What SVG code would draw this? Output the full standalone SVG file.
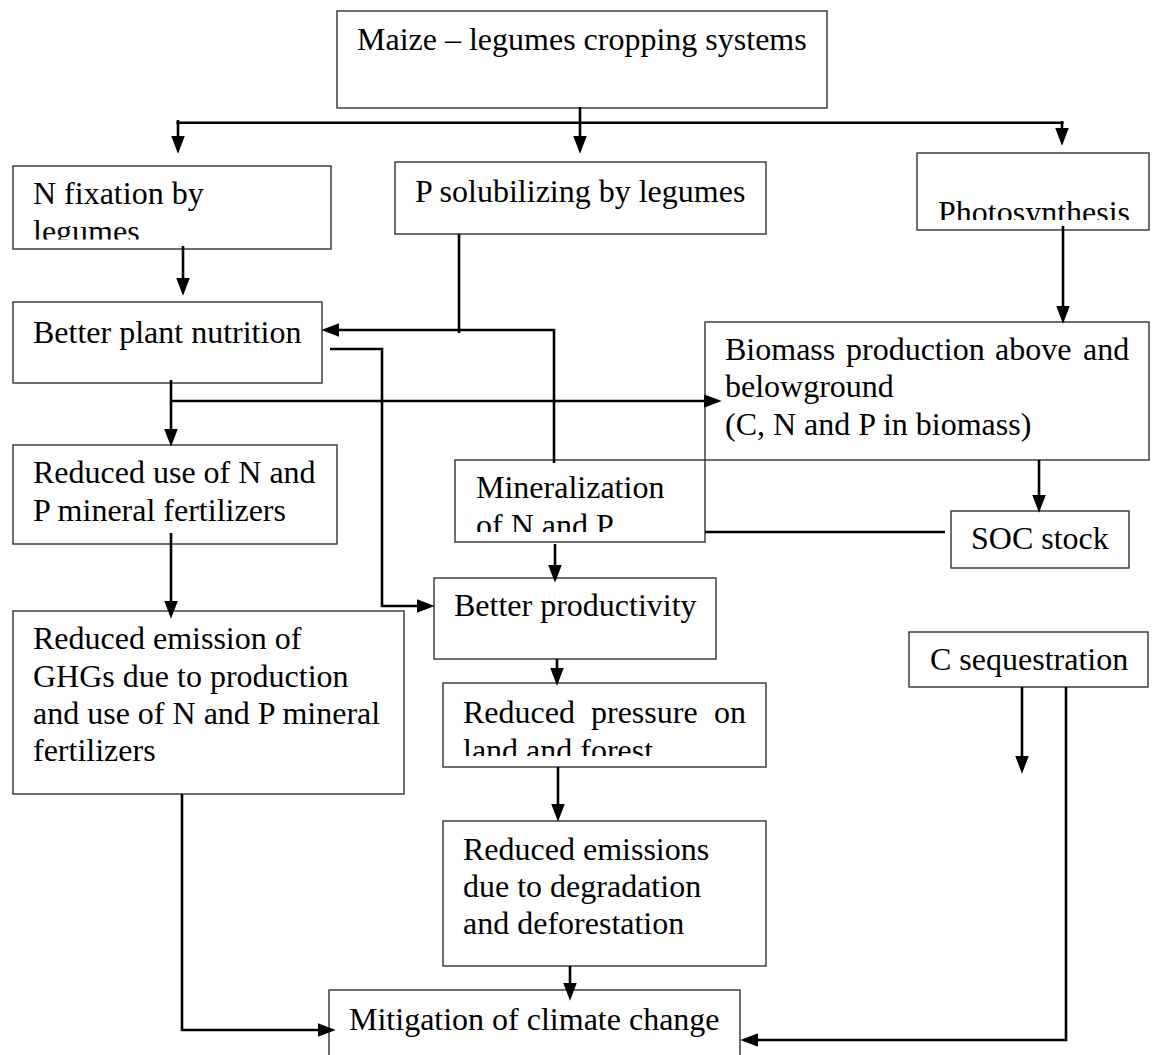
<svg xmlns="http://www.w3.org/2000/svg" width="1152" height="1055" viewBox="0 0 1152 1055">
<style>
.box{fill:#fff;stroke:#333;stroke-width:1.4}
.t{font-family:"Liberation Serif","Times New Roman",serif;font-size:32px;fill:#000}
.c{fill:none;stroke:#000;stroke-width:2.6}
.a{marker-end:url(#ah)}
</style>
<defs>
<marker id="ah" markerUnits="userSpaceOnUse" markerWidth="18" markerHeight="14" viewBox="0 0 17 13" refX="5" refY="6.5" orient="auto">
<path d="M0,0 L17,6.5 L0,13 z" fill="#000"/>
</marker>
<clipPath id="cNfix"><rect x="13" y="166" width="318" height="73.5"/></clipPath>
<clipPath id="cPhoto"><rect x="917" y="153" width="232" height="67"/></clipPath>
<clipPath id="cMin"><rect x="455" y="460" width="250" height="72"/></clipPath>
<clipPath id="cPress"><rect x="443" y="683" width="323" height="73"/></clipPath>
</defs>
<rect width="1152" height="1055" fill="#fff"/>

<g id="n-maize"><rect class="box" x="337" y="11" width="490" height="97"/><text class="t" x="357" y="50">Maize – legumes cropping systems</text></g>
<g id="n-nfix"><rect class="box" x="13" y="166" width="318" height="83"/><g clip-path="url(#cNfix)"><text class="t" x="33" y="204">N fixation by</text><text class="t" x="33" y="241.5">legumes</text></g></g>
<g id="n-psol"><rect class="box" x="395" y="162" width="371" height="72"/><text class="t" x="415" y="202">P solubilizing by legumes</text></g>
<g id="n-photo"><rect class="box" x="917" y="153" width="232" height="77"/><g clip-path="url(#cPhoto)"><text class="t" x="938" y="223">Photosynthesis</text></g></g>
<g id="n-bpn"><rect class="box" x="13" y="302" width="309" height="81"/><text class="t" x="33" y="343">Better plant nutrition</text></g>
<g id="n-biomass"><rect class="box" x="705" y="322" width="444" height="138"/><text class="t" y="360"><tspan x="725">Biomass</tspan><tspan x="846">production</tspan><tspan x="995">above</tspan><tspan x="1083">and</tspan></text><text class="t" x="725" y="397">belowground</text><text class="t" x="725" y="435">(C, N and P in biomass)</text></g>
<g id="n-reduse"><rect class="box" x="13" y="445" width="324" height="99"/><text class="t" x="33" y="483">Reduced use of N and</text><text class="t" x="33" y="521">P mineral fertilizers</text></g>
<g id="n-mineral"><rect class="box" x="455" y="460" width="250" height="82"/><g clip-path="url(#cMin)"><text class="t" x="476" y="498">Mineralization</text><text class="t" x="476" y="535.5">of N and P</text></g></g>
<g id="n-soc"><rect class="box" x="951" y="511" width="178" height="57"/><text class="t" x="971" y="549">SOC stock</text></g>
<g id="n-prod"><rect class="box" x="434" y="578" width="282" height="81"/><text class="t" x="454" y="616">Better productivity</text></g>
<g id="n-ghg"><rect class="box" x="13" y="611" width="391" height="183"/><text class="t" x="33" y="649">Reduced emission of</text><text class="t" x="33" y="687">GHGs due to production</text><text class="t" x="33" y="724">and use of N and P mineral</text><text class="t" x="33" y="761">fertilizers</text></g>
<g id="n-csq"><rect class="box" x="909" y="632" width="239" height="55"/><text class="t" x="930" y="670">C sequestration</text></g>
<g id="n-press"><rect class="box" x="443" y="683" width="323" height="84"/><g clip-path="url(#cPress)"><text class="t" y="723"><tspan x="463">Reduced</tspan><tspan x="591">pressure</tspan><tspan x="714">on</tspan></text><text class="t" x="463" y="760.5">land and forest</text></g></g>
<g id="n-emis"><rect class="box" x="443" y="821" width="323" height="145"/><text class="t" x="463" y="860">Reduced emissions</text><text class="t" x="463" y="897">due to degradation</text><text class="t" x="463" y="934">and deforestation</text></g>
<g id="n-mitig"><rect class="box" x="329" y="990" width="411" height="80"/><text class="t" x="349" y="1030">Mitigation of climate change</text></g>

<g id="connectors">
<path class="c" d="M176.5,122.7 H1063.5"/>
<path class="c a" d="M178,120 V141"/>
<path class="c a" d="M580,107 V141"/>
<path class="c a" d="M1062,121 V133"/>
<path class="c a" d="M183,246 V283"/>
<path class="c" d="M459,234 V333"/>
<path class="c a" d="M554,463 V330 H334"/>
<path class="c a" d="M330,349 H382 V606 H422"/>
<path class="c a" d="M171,380 V434"/>
<path class="c a" d="M171,401 H709"/>
<path class="c a" d="M171,533 V606"/>
<path class="c a" d="M555,544 V570"/>
<path class="c" d="M705,532 H945"/>
<path class="c a" d="M1063,226 V311"/>
<path class="c a" d="M1039,460 V500"/>
<path class="c a" d="M557,659 V673"/>
<path class="c a" d="M558,767 V809"/>
<path class="c a" d="M570,966 V988"/>
<path class="c a" d="M182,794 V1030 H323"/>
<path class="c a" d="M1022,687 V761"/>
<path class="c a" d="M1066,687 V1040 H753"/>
</g>
</svg>
